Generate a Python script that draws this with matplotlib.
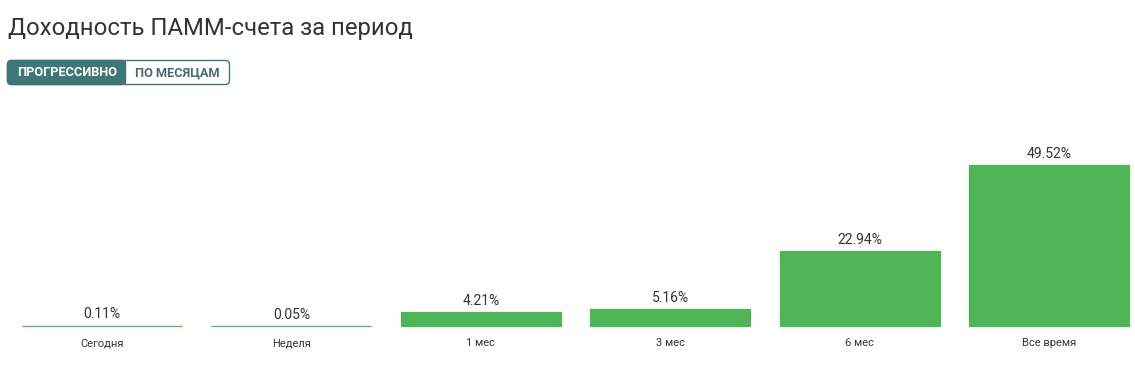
import numpy as np
import matplotlib.pyplot as plt
from matplotlib.patches import FancyBboxPatch, Rectangle

plt.rcParams['font.family'] = ['Roboto', 'DejaVu Sans']

# Data
periods = ['Сегодня', 'Неделя', '1 мес', '3 мес', '6 мес', 'Все время']
returns = [0.11, 0.05, 4.21, 5.16, 22.94, 49.52]

green = '#50b557'
teal = '#3f7678'
text_col = '#333333'

fig = plt.figure(figsize=(11.35, 3.81), dpi=100)

# bar chart area: baseline at y=326px, top at y=100px
ax = fig.add_axes([0, 55 / 381, 1, 226 / 381])
x = np.arange(len(periods))
ax.bar(x, returns, width=0.845, color=green, edgecolor=green, linewidth=0.9,
       clip_on=False)
ax.set_xlim(-102 / 189.4, (1135 - 102) / 189.4)
ax.set_ylim(0, 226 / 3.251)

for xi, v in zip(x, returns):
    ax.annotate(f'{v:.2f}%', (xi, v), xytext=(0, 3), textcoords='offset points',
                ha='center', va='bottom', fontsize=10, color=text_col)

ax.set_xticks(x)
ax.set_xticklabels(periods, fontsize=8, color=text_col)
ax.tick_params(axis='x', length=0, pad=9)
ax.set_yticks([])
for s in ax.spines.values():
    s.set_visible(False)

# title and toggle buttons (pixel coords overlay)
ov = fig.add_axes([0, 0, 1, 1], zorder=-1)
ov.set_xlim(0, 1135)
ov.set_ylim(381, 0)
ov.axis('off')

fig.text(8 / 1135, 1 - 28 / 381, 'Доходность ПАММ-счета за период',
         fontsize=17.2, color=text_col, va='center', ha='left')

ov.add_patch(FancyBboxPatch((7.5, 60.5), 222, 24, boxstyle='round,pad=0,rounding_size=4',
                            facecolor='white', edgecolor=teal, linewidth=1))
ov.add_patch(FancyBboxPatch((7.5, 60.5), 118, 24, boxstyle='round,pad=0,rounding_size=4',
                            facecolor=teal, edgecolor=teal, linewidth=1))
ov.add_patch(Rectangle((115, 60.5), 11, 24, facecolor=teal, edgecolor='none'))
ov.text(67, 73, 'ПРОГРЕССИВНО', fontsize=9.2, fontweight='bold', color='white',
        ha='center', va='center')
ov.text(177.5, 73, 'ПО МЕСЯЦАМ', fontsize=9.2, fontweight='bold', color='#4b6b70',
        ha='center', va='center')

fig.savefig('out.png', dpi=100, facecolor='white')
